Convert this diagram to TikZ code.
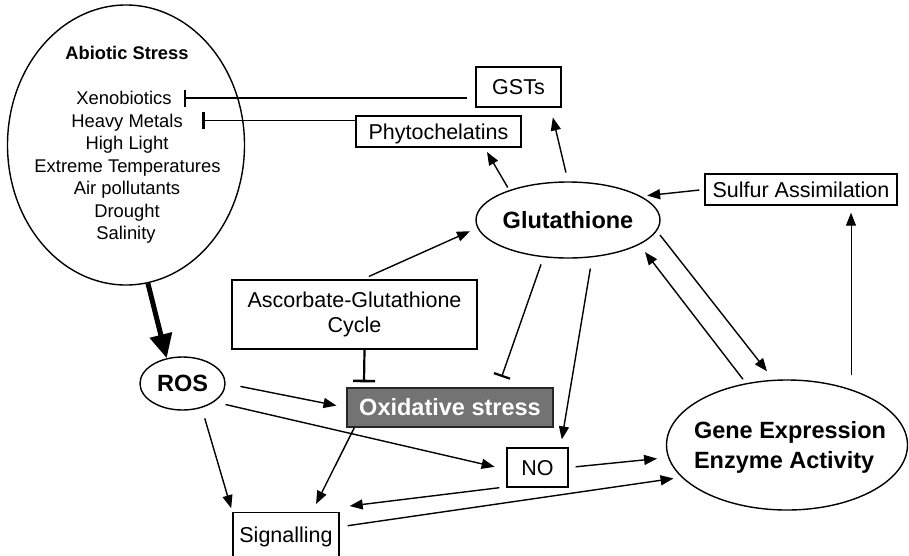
\documentclass[tikz,border=0pt]{standalone}
\usepackage{fontspec}
\setmainfont{Liberation Sans}
\usetikzlibrary{shapes.geometric,arrows.meta,calc}

\begin{document}
\begin{tikzpicture}[x=1pt,y=-1pt,
  line width=1.4pt,
  arr/.style={-{Triangle[length=13pt,width=10pt]}},
  bigarr/.style={line width=5pt,-{Triangle[length=24pt,width=22pt]}},
  inhib/.style={-{Bar[width=17pt,line width=2.2pt]}},
  inhibthick/.style={line width=2.2pt,-{Bar[width=22pt,line width=2.6pt]}},
  boxtxt/.style={font=\fontsize{21.5}{25}\selectfont},
  box/.style={draw, rectangle, inner sep=0pt, boxtxt, text height=15.4pt, text depth=0pt},
  ellip/.style={draw, ellipse, inner sep=0pt},
  boldtxt/.style={font=\fontsize{23.5}{30}\selectfont\bfseries},
  listtxt/.style={font=\fontsize{18.4}{22}\selectfont, inner sep=0pt, text height=13.2pt, text depth=0pt},
]
\useasboundingbox (0,0) rectangle (909,555);
\clip (0,0) rectangle (909,555);

% Abiotic stress ellipse and its list of stresses
\node[ellip, minimum width=237, minimum height=280] (abiotic) at (126,145) {};
\node[listtxt, font=\fontsize{18.3}{22}\selectfont\bfseries] (abhead) at (127,53) {Abiotic Stress};
\node[listtxt] (xeno)   at (124,98)    {Xenobiotics};
\node[listtxt] (metals) at (127,120.5) {Heavy Metals};
\node[listtxt] (light)  at (127,143)   {High Light};
\node[listtxt] (temp)   at (127.5,165.5) {Extreme Temperatures};
\node[listtxt] (air)    at (127,188)   {Air pollutants};
\node[listtxt] (drought) at (127,210.5) {Drought};
\node[listtxt] (salt)   at (126,233)   {Salinity};

% Boxes
\node[box, minimum width=85, minimum height=40] (gsts) at (518.5,87) {GSTs};
\node[box, minimum width=165, minimum height=31] (phyto) at (438.5,131.5) {Phytochelatins};
\node[box, minimum width=192, minimum height=31] (sulfur) at (801,189.5) {Sulfur Assimilation};
\node[draw, rectangle, inner sep=0pt, boxtxt, align=center, minimum width=245, minimum height=69] (asc) at (354.5,314.5) {Ascorbate-Glutathione\\Cycle};
\node[box, fill=black!55, draw=black!85, text=white, font=\fontsize{23.5}{28}\selectfont\bfseries, text height=16.8pt, minimum width=206, minimum height=39] (oxi) at (450,407.5) {Oxidative stress};
\node[box, minimum width=61, minimum height=39] (no) at (537.5,467.5) {NO};
\node[box, anchor=north, minimum width=106, minimum height=44] (sig) at (286,512) {Signalling};

% Ellipses
\node[ellip, minimum width=184, minimum height=76] (glut) at (568,220) {};
\node[boldtxt, inner sep=0pt] (gluttext) at (568,220) {Glutathione};
\node[ellip, minimum width=85, minimum height=53, boldtxt] (ros) at (182.5,383.5) {ROS};
\node[ellip, minimum width=241, minimum height=130] (gene) at (787,445) {};
\node[boldtxt, inner sep=0pt, align=left] (genetext) at (790,447) {Gene Expression\\Enzyme Activity};

% Inhibitions of the stresses
\draw[inhib, shorten <=8pt] (gsts.west |- xeno.east) -- ([xshift=12pt]xeno.east);
\draw[inhib] (phyto.west |- metals.east) -- ([xshift=19pt]metals.east);

% Abiotic stress produces ROS
\draw[bigarr] (abiotic.-81) -- (ros.122);

% Glutathione products
\draw[arr, shorten <=3pt, shorten >=5pt] (glut.153) -- ($(phyto.south)+(46,0)$);
\draw[arr, shorten <=9pt, shorten >=10pt] (glut.north) -- ($(gsts.south)+(32,0)$);
\draw[arr, shorten <=5pt, shorten >=6pt] (sulfur.west) -- (glut.18);
\draw[arr, line width=1pt, shorten <=12pt, shorten >=7pt] ($(gene.north)+(64,8)$) -- ($(sulfur.south)+(50,0)$);
\draw[arr, shorten <=7pt, shorten >=8pt] ($(asc.north)+(8,0)$) -- (glut.185);

% Inhibitions of oxidative stress
\draw[inhibthick] ($(asc.south)+(10,0)$) -- ($(oxi.north)+(-86,-5)$);
\draw[inhib, shorten <=6pt, shorten >=11pt] ($(glut.south)+(-25,0)$) -- ($(oxi.north)+(48,0)$);

% Glutathione and gene expression
\draw[arr, shorten <=10pt, shorten >=8pt] ($(glut.south)+(24,0)$) -- ($(no.north)+(23,0)$);
\draw[arr] ($(glut.center)+(92,15)$) -- ($(gene.north)+(-20,-8)$);
\draw[arr] ($(gene.north)+(-44,0)$) -- ($(glut.center)+(77,32)$);

% ROS signalling
\draw[arr, shorten <=15pt, shorten >=10pt] (ros.east) -- (oxi.west);
\draw[arr, shorten >=12pt] ($(ros.center)+(43,21)$) -- ($(no.west)+(0,2)$);
\draw[arr, shorten <=8pt, shorten >=4pt] ($(ros.south)+(20,0)$) -- (sig.north west);
\draw[arr, shorten >=9pt] ($(oxi.south west)+(8,0)$) -- ($(sig.north)+(26,0)$);
\draw[arr] ($(no.south west)+(-7,0)$) -- ($(sig.north east)+(10,-6)$);
\draw[arr, shorten >=8pt] ($(sig.east)+(8,-9)$) -- (gene.197);
\draw[arr, shorten <=7pt, shorten >=11pt] (no.east) -- (gene.186);
\end{tikzpicture}
\end{document}
